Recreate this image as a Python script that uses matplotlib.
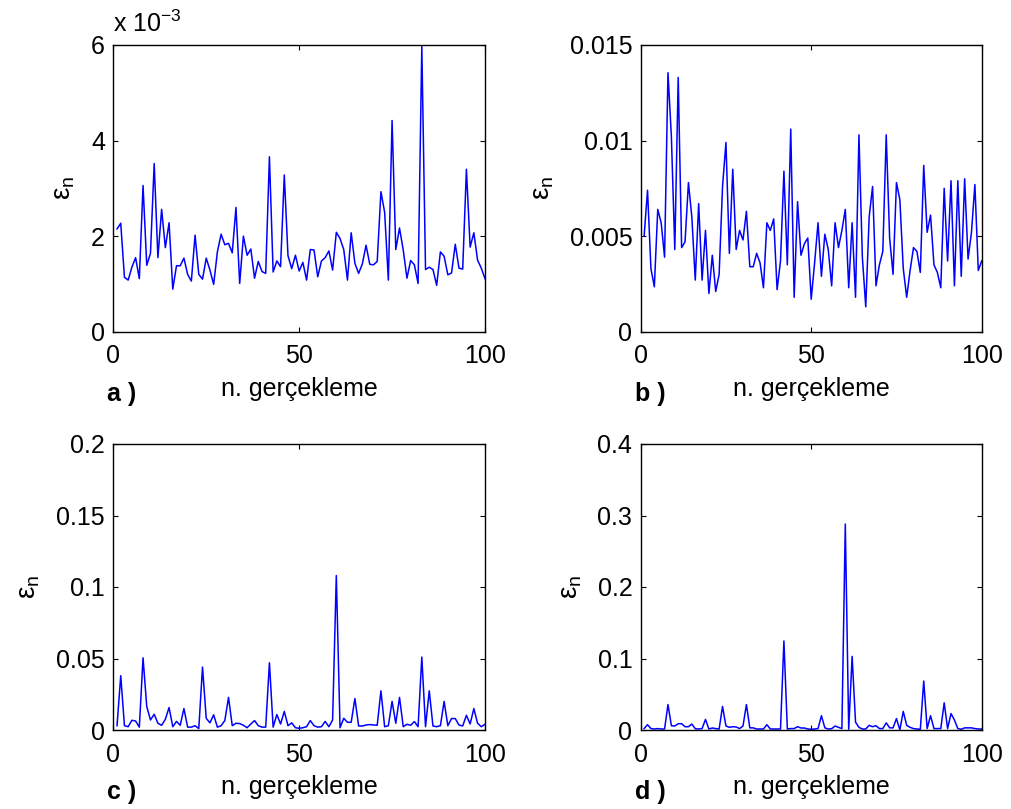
import numpy as np
import matplotlib
matplotlib.use("Agg")
import matplotlib.pyplot as plt

plt.rcParams['font.family'] = ['Liberation Sans', 'DejaVu Sans']
plt.rcParams['mathtext.fontset'] = 'custom'
plt.rcParams['mathtext.rm'] = 'Liberation Sans'
plt.rcParams['mathtext.it'] = 'Liberation Sans'
plt.rcParams['mathtext.bf'] = 'Liberation Sans:bold'
plt.rcParams['mathtext.default'] = 'regular'

n = np.arange(1, 101)

# panel a values (x 1e-3)
a_vals = [2.15, 2.27, 1.14, 1.08, 1.35, 1.55, 1.11, 3.06, 1.39, 1.64,
          3.52, 1.55, 2.56, 1.76, 2.28, 0.89, 1.38, 1.38, 1.54, 1.20,
          1.06, 2.02, 1.20, 1.10, 1.54, 1.29, 0.99, 1.67, 2.04, 1.82,
          1.85, 1.65, 2.60, 1.01, 2.00, 1.60, 1.73, 1.12, 1.47, 1.26,
          1.22, 3.66, 1.25, 1.48, 1.36, 3.28, 1.59, 1.32, 1.60, 1.27,
          1.45, 1.08, 1.72, 1.71, 1.15, 1.48, 1.55, 1.69, 1.29, 2.08,
          1.95, 1.72, 1.08, 2.07, 1.43, 1.22, 1.42, 1.81, 1.41, 1.40,
          1.47, 2.93, 2.50, 1.08, 4.42, 1.72, 2.17, 1.71, 1.12, 1.49,
          1.40, 1.01, 5.98, 1.30, 1.35, 1.30, 0.97, 1.67, 1.58, 1.19,
          1.23, 1.83, 1.33, 1.31, 3.40, 1.77, 2.07, 1.50, 1.33, 1.11]

b_vals = [0.0050, 0.0074, 0.0033, 0.00235, 0.0064, 0.0057, 0.0039, 0.01355, 0.0102, 0.0043,
          0.0133, 0.0044, 0.0047, 0.0078, 0.0060, 0.0027, 0.0067, 0.0027, 0.0053, 0.0020,
          0.0040, 0.0021, 0.0030, 0.0076, 0.0099, 0.0041, 0.0085, 0.0043, 0.0053, 0.0048,
          0.0063, 0.0034, 0.0034, 0.0041, 0.0036, 0.0023, 0.0057, 0.0053, 0.0059, 0.0022,
          0.0037, 0.0084, 0.0035, 0.0106, 0.0018, 0.0068, 0.0040, 0.0046, 0.0049, 0.0017,
          0.0036, 0.0057, 0.0029, 0.0051, 0.0043, 0.0024, 0.0057, 0.0044, 0.0053, 0.0064,
          0.0023, 0.0057, 0.0018, 0.0103, 0.0039, 0.0013, 0.0060, 0.0076, 0.0024, 0.0035,
          0.0042, 0.0103, 0.0049, 0.0030, 0.0078, 0.0069, 0.0033, 0.0018, 0.0032, 0.0044,
          0.0042, 0.0031, 0.0087, 0.0052, 0.0061, 0.0035, 0.0031, 0.0023, 0.0075, 0.0037,
          0.0079, 0.0024, 0.0079, 0.0029, 0.0080, 0.0038, 0.0052, 0.0077, 0.0032, 0.0037]

c_vals = [0.003, 0.038, 0.003, 0.0023, 0.0068, 0.0063, 0.002, 0.0505, 0.0164, 0.007,
          0.011, 0.0047, 0.0033, 0.0075, 0.0157, 0.0023, 0.006, 0.0033, 0.015, 0.002,
          0.002, 0.003, 0.001, 0.044, 0.0082, 0.005, 0.0106, 0.002, 0.003, 0.0066,
          0.0228, 0.003, 0.0047, 0.0045, 0.0033, 0.0016, 0.0042, 0.0066, 0.003, 0.002,
          0.002, 0.047, 0.002, 0.0108, 0.0042, 0.013, 0.003, 0.005, 0.0016, 0.0012,
          0.0016, 0.0023, 0.0066, 0.003, 0.002, 0.0023, 0.006, 0.0023, 0.007, 0.108,
          0.0016, 0.0082, 0.0054, 0.0054, 0.022, 0.0028, 0.0028, 0.0035, 0.0038, 0.0035,
          0.0033, 0.0274, 0.0023, 0.003, 0.020, 0.0047, 0.0228, 0.0023, 0.004, 0.0033,
          0.0059, 0.0023, 0.051, 0.0023, 0.0274, 0.0028, 0.0023, 0.003, 0.020, 0.003,
          0.008, 0.008, 0.0035, 0.0028, 0.0103, 0.0042, 0.015, 0.0047, 0.0023, 0.004]

d_vals = [0.002, 0.0074, 0.002, 0.0014, 0.002, 0.0014, 0.0014, 0.0356, 0.006, 0.0056,
          0.0088, 0.0088, 0.0046, 0.0046, 0.0083, 0.0018, 0.0014, 0.002, 0.0148, 0.0014,
          0.0028, 0.002, 0.0014, 0.033, 0.0056, 0.0037, 0.0046, 0.0042, 0.002, 0.0056,
          0.0356, 0.003, 0.003, 0.0014, 0.0014, 0.0014, 0.0074, 0.0014, 0.0014, 0.0014,
          0.0014, 0.1245, 0.0014, 0.002, 0.002, 0.0046, 0.0028, 0.0028, 0.0014, 0.001,
          0.0014, 0.002, 0.020, 0.003, 0.0014, 0.0018, 0.0056, 0.0037, 0.002, 0.288,
          0.001, 0.103, 0.011, 0.0037, 0.0014, 0.0014, 0.0065, 0.0046, 0.006, 0.002,
          0.002, 0.010, 0.003, 0.003, 0.016, 0.0002, 0.026, 0.0065, 0.0037, 0.002,
          0.0014, 0.001, 0.0685, 0.002, 0.020, 0.002, 0.002, 0.002, 0.038, 0.002,
          0.023, 0.014, 0.002, 0.001, 0.003, 0.003, 0.003, 0.002, 0.0014, 0.0014]

x_ticks = [0, 50, 100]
a_ticks = [0, 2, 4, 6]
a_ticklabels = ['0', '2', '4', '6']
b_ticks = [0, 0.005, 0.01, 0.015]
b_ticklabels = ['0', '0.005', '0.01', '0.015']
c_ticks = [0, 0.05, 0.1, 0.15, 0.2]
c_ticklabels = ['0', '0.05', '0.1', '0.15', '0.2']
d_ticks = [0, 0.1, 0.2, 0.3, 0.4]
d_ticklabels = ['0', '0.1', '0.2', '0.3', '0.4']
panel_letters = ['a )', 'b )', 'c )', 'd )']
xlabel_text = 'n. gerçekleme'
ylabel_text = r'$\varepsilon_n$'

W, H = 1011, 809
fig = plt.figure(figsize=(W / 100, H / 100), dpi=100)

FS = 18
boxes = [
    (113.3, 45, 485, 331.7),
    (640.7, 45, 981.7, 331.7),
    (113.3, 444, 485, 730),
    (640.7, 444, 981.7, 730),
]
series = [a_vals, b_vals, c_vals, d_vals]
yt = [a_ticks, b_ticks, c_ticks, d_ticks]
ytl = [a_ticklabels, b_ticklabels, c_ticklabels, d_ticklabels]

for i, (box, vals) in enumerate(zip(boxes, series)):
    x0, y0, x1, y1 = box
    ax = fig.add_axes([x0 / W, 1 - y1 / H, (x1 - x0) / W, (y1 - y0) / H])
    ax.plot(n, vals, color=(0, 0, 1), lw=1.1)
    ax.set_xlim(0, 100)
    ax.set_ylim(yt[i][0], yt[i][-1])
    ax.set_xticks(x_ticks)
    ax.set_xticklabels([str(t) for t in x_ticks])
    ax.set_yticks(yt[i])
    ax.set_yticklabels(ytl[i])
    ax.tick_params(direction='in', length=3.5, width=0.8, top=True, right=True,
                   labelsize=FS)
    ax.tick_params(axis='x', pad=9)
    ax.tick_params(axis='y', pad=6)
    for s in ax.spines.values():
        s.set_linewidth(1.0)
    ax.set_xlabel(xlabel_text, fontsize=FS, labelpad=6)
    ax.set_ylabel(ylabel_text, fontsize=FS + 2, labelpad=10)
    fig.text((x0 - 6) / W, 1 - (y1 + 62) / H, panel_letters[i], fontsize=FS,
             fontweight='bold', ha='left', va='center')

fig.text(113 / W, 1 - 24 / H, r'x 10$^{-3}$', fontsize=FS, ha='left', va='center')

fig.savefig('out.png', dpi=100)
